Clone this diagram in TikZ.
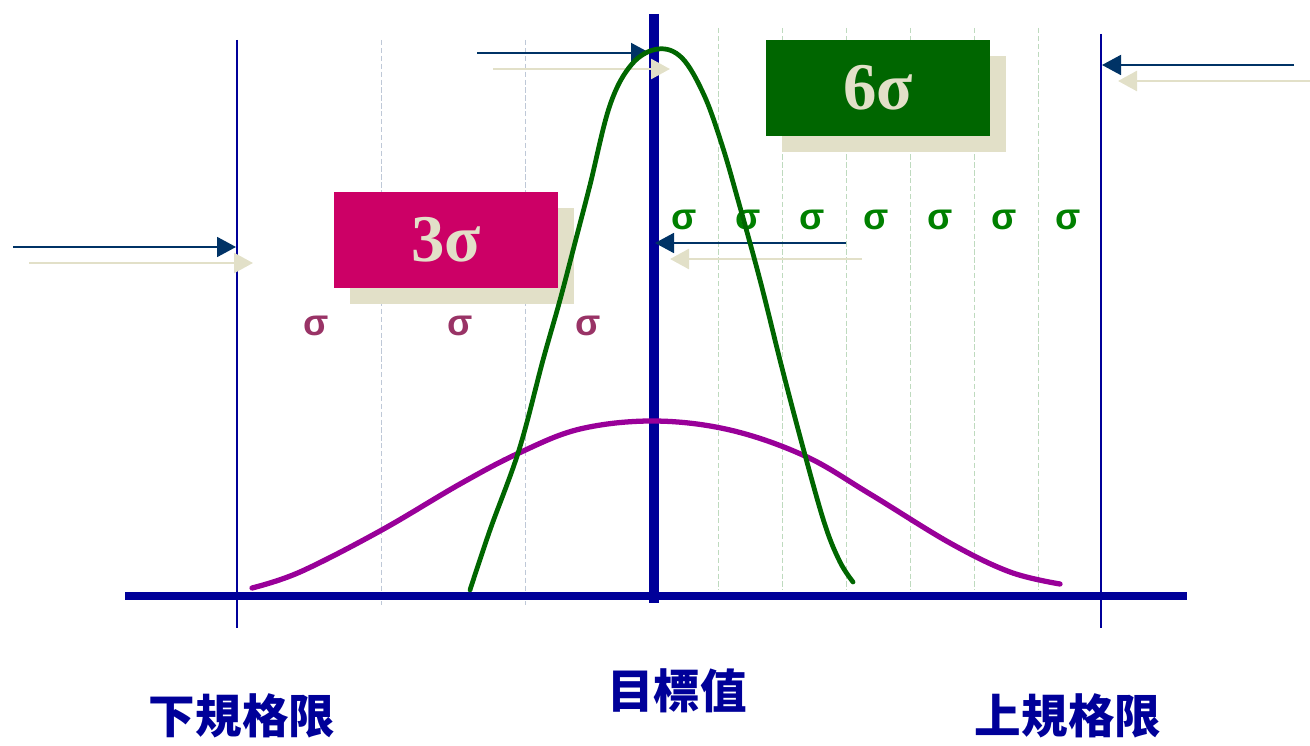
\documentclass[tikz,border=0pt]{standalone}
\usepackage{fontspec}
\setmainfont{Liberation Serif}
\newfontfamily\cjk{Noto Sans CJK TC}
\newfontfamily\sigmafont{Liberation Sans}
\usetikzlibrary{arrows.meta}

\definecolor{specnavy}{RGB}{0,0,153}
\definecolor{arrownavy}{RGB}{0,51,102}
\definecolor{shadowbeige}{RGB}{226,224,200}
\definecolor{boxmagenta}{RGB}{204,0,102}
\definecolor{boxgreen}{RGB}{0,102,0}
\definecolor{curvegreen}{RGB}{0,102,0}
\definecolor{curvepurple}{RGB}{153,0,153}
\definecolor{sigmapurple}{RGB}{153,51,102}
\definecolor{sigmagreen}{RGB}{0,128,0}
\definecolor{gridblue}{RGB}{190,200,215}
\definecolor{gridgreen}{RGB}{190,218,190}

\begin{document}
\begin{tikzpicture}[
  x=0.02cm, y=-0.02cm,
  grid line/.style={dash pattern=on 3pt off 1.5pt,line width=0.5pt},
  spec line/.style={specnavy,line width=1.4pt},
  sigma box/.style={minimum width=4.48cm,minimum height=1.92cm,inner sep=0pt,text=shadowbeige,font=\fontsize{38}{40}\selectfont\bfseries},
  box shadow/.style={fill=shadowbeige,minimum width=4.48cm,minimum height=1.92cm,inner sep=0pt},
  sigma mark/.style={font=\sigmafont\fontsize{21}{24}\selectfont\bfseries,inner sep=0pt},
  pointer/.style={arrownavy,line width=1.1pt,-{Triangle[length=0.38cm,width=0.4cm]}},
  pointer shadow/.style={shadowbeige,line width=1.5pt,-{Triangle[length=0.38cm,width=0.4cm]}},
  limit label/.style={text=specnavy,font=\cjk\fontsize{26.5}{30}\selectfont\bfseries,inner sep=0pt}
]
  \useasboundingbox (0,0) rectangle (1310,746);

  \foreach \gx in {381,525}
    \draw[grid line,gridblue] (\gx,40) -- (\gx,605);
  \foreach \gx in {718,782,846,910,974,1038}
    \draw[grid line,gridgreen] (\gx,28) -- (\gx,590);

  \coordinate (lsl-top) at (237,40);
  \coordinate (lsl-bottom) at (237,628);
  \coordinate (usl-top) at (1101,34);
  \coordinate (usl-bottom) at (1101,628);
  \coordinate (axis-left) at (125,596);
  \coordinate (axis-right) at (1187,596);
  \coordinate (target-top) at (654,14);
  \coordinate (target-bottom) at (654,603);

  \draw[spec line] (lsl-top) -- (lsl-bottom);
  \draw[spec line] (usl-top) -- (usl-bottom);
  \draw[specnavy,line width=4.5pt] (axis-left) -- (axis-right);
  \draw[specnavy,line width=5.6pt] (target-top) -- (target-bottom);

  \node[box shadow] (box-3s-shadow) at (462,256) {};
  \node[sigma box,fill=boxmagenta] (box-3s) at (446,240) {3σ};
  \node[box shadow] (box-6s-shadow) at (894,104) {};
  \node[sigma box,fill=boxgreen] (box-6s) at (878,88) {6σ};

  \coordinate (top-tail) at (477,53);
  \coordinate (top-tip) at (650,53);
  \coordinate (top-tail-s) at (493,69);
  \coordinate (top-tip-s) at (670,69);
  \coordinate (usl-tail) at (1294,65);
  \coordinate (usl-tip) at (1102,65);
  \coordinate (usl-tail-s) at (1310,81);
  \coordinate (usl-tip-s) at (1118,81);
  \coordinate (lsl-tail) at (13,247);
  \coordinate (lsl-tip) at (236,247);
  \coordinate (lsl-tail-s) at (29,263);
  \coordinate (lsl-tip-s) at (253,263);
  \coordinate (mid-tail) at (846,243);
  \coordinate (mid-tip) at (655,243);
  \coordinate (mid-tail-s) at (862,259);
  \coordinate (mid-tip-s) at (670,259);

  \draw[pointer shadow] (top-tail-s) -- (top-tip-s);
  \draw[pointer] (top-tail) -- (top-tip);
  \draw[pointer shadow] (usl-tail-s) -- (usl-tip-s);
  \draw[pointer] (usl-tail) -- (usl-tip);
  \draw[pointer shadow] (lsl-tail-s) -- (lsl-tip-s);
  \draw[pointer] (lsl-tail) -- (lsl-tip);
  \draw[pointer shadow] (mid-tail-s) -- (mid-tip-s);
  \draw[pointer] (mid-tail) -- (mid-tip);

  \foreach \sx [count=\i] in {316,460,588}
    \node[sigma mark,text=sigmapurple] (sigma-3-\i) at (\sx,326) {σ};
  \foreach \sx [count=\i] in {684,748,812,876,940,1004,1068}
    \node[sigma mark,text=sigmagreen] (sigma-6-\i) at (\sx,220) {σ};

  \draw[curvepurple,line width=3pt,line cap=round] plot[smooth,tension=0.6] coordinates {
    (252,588) (300,572) (380,531) (460,484) (519,453) (580,429) (654,421)
    (730,430) (805,456) (870,494) (950,543) (1010,572) (1060,584)};
  \draw[curvegreen,line width=2.7pt,line cap=round] plot[smooth,tension=0.6] coordinates {
    (470,590) (490,530) (519,450) (543,360) (560,300) (577,235) (590,185)
    (610,105) (632,64) (658,49) (682,58) (704,95) (722,145) (738,200)
    (760,280) (782,368) (805,455) (825,525) (840,562) (853,582)};

  \node[limit label] (lsl-label) at (242,716) {下規格限};
  \node[limit label] (target-label) at (677,691) {目標值};
  \node[limit label] (usl-label) at (1068,716) {上規格限};
\end{tikzpicture}
\end{document}
